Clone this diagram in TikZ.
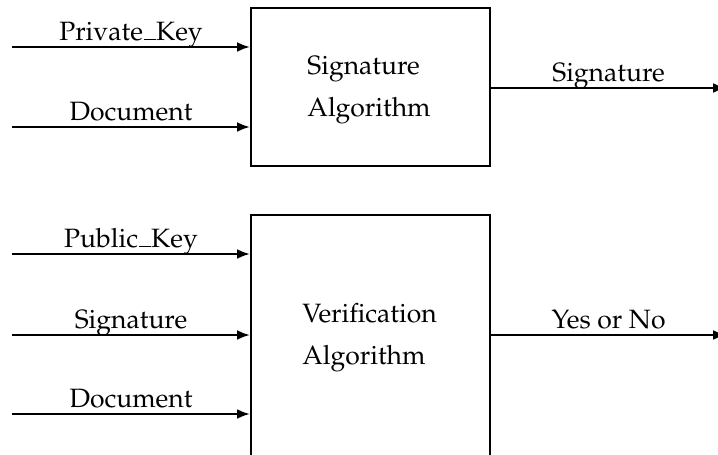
\documentclass[tikz,border=0pt]{standalone}
\usepackage[T1]{fontenc}
\usepackage{mathpazo}
\usetikzlibrary{arrows.meta}
\newcommand{\usc}{\leavevmode\kern.03em\vbox{\hrule height .5pt width .45em}\kern.01em}
\begin{document}
\begin{tikzpicture}[x=0.3885pt,y=-0.3885pt,
  line width=0.8pt,
  arr/.style={-{Latex[length=5pt,width=3.8pt]}},
  blockbox/.style={draw,rectangle,inner sep=0pt},
  blocktext/.style={align=left,font=\fontsize{10.3}{16.3}\selectfont},
  lbl/.style={midway,anchor=base,yshift=2.7pt,inner sep=0pt,font=\fontsize{10.3}{12}\selectfont}]
\useasboundingbox (0,0) rectangle (718,454);
% boxes
\node[blockbox,minimum width=239*0.3885pt,minimum height=158*0.3885pt] (sig) at (370.5,87) {};
\node[blockbox,minimum width=239*0.3885pt,minimum height=245*0.3885pt] (ver) at (370.5,337.5) {};
\node[blocktext] (sigtxt) at (369,90.3) {Signature\\Algorithm};
\node[blocktext] (vertxt) at (369.5,337.3) {Verification\\Algorithm};
% free ends
\coordinate (a1) at (12,47);
\coordinate (a2) at (12,127);
\coordinate (b1) at (12,254);
\coordinate (b2) at (12,335);
\coordinate (b3) at (12,414);
\coordinate (o1) at (726,88);
\coordinate (o2) at (726,335);
% input arrows
\draw[arr] (a1) -- (a1 -| sig.west) node[lbl] {Private\usc Key};
\draw[arr] (a2) -- (a2 -| sig.west) node[lbl] {Document};
\draw[arr] (b1) -- (b1 -| ver.west) node[lbl] {Public\usc Key};
\draw[arr] (b2) -- (b2 -| ver.west) node[lbl] {Signature};
\draw[arr] (b3) -- (b3 -| ver.west) node[lbl] {Document};
% output arrows
\draw[arr] (o1 -| sig.east) -- (o1) node[lbl] {Signature};
\draw[arr] (o2 -| ver.east) -- (o2) node[lbl] {Yes or No};
\end{tikzpicture}
\end{document}
